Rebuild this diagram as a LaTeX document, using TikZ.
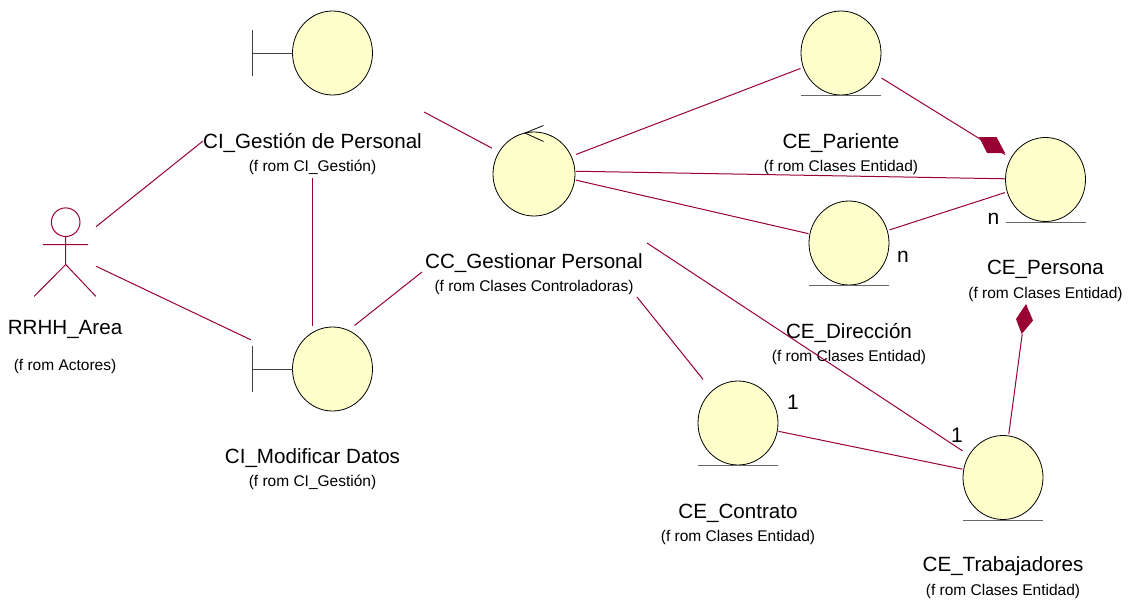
\documentclass[tikz,border=0pt]{standalone}
\usepackage{fontspec}
\setmainfont{Liberation Sans}
\usepackage{xcolor}
\usetikzlibrary{positioning}
\definecolor{assocRed}{HTML}{990033}
\definecolor{bodyYellow}{HTML}{FFFFCC}

\begin{document}
\begin{tikzpicture}[
    x=1pt, y=-1pt, on grid,
    entity/.style={rectangle, inner sep=0pt, outer sep=0pt, minimum width=81pt, minimum height=87pt,
        path picture={\begin{scope}[shift={(path picture bounding box.center)}]
            \draw[fill=bodyYellow, line width=.8pt] (0,0) ellipse (40pt and 42pt);
            \draw[gray!80!black, line width=1pt] (-40,42.7) -- (40,42.7);
        \end{scope}}},
    boundary/.style={rectangle, inner sep=0pt, outer sep=0pt, minimum width=123pt, minimum height=87pt,
        path picture={\begin{scope}[shift={(path picture bounding box.center)}]
            \draw[fill=bodyYellow, line width=.8pt] (20,0) ellipse (40pt and 42pt);
            \draw[black!75, line width=.8pt] (-60.5,0) -- (-20,0);
            \draw[black!75, line width=1pt] (-60.5,-23) -- (-60.5,23);
        \end{scope}}},
    control/.style={rectangle, inner sep=0pt, outer sep=0pt, minimum width=84pt, minimum height=93pt,
        path picture={\begin{scope}[shift={(path picture bounding box.center)}]
            \draw[fill=bodyYellow, line width=.8pt] (0,3.5) ellipse (41pt and 42pt);
            \draw[line width=.8pt] (9.5,-45) -- (-9,-37.5) -- (9.5,-29);
        \end{scope}}},
    actor/.style={rectangle, inner sep=0pt, outer sep=0pt, minimum width=62pt, minimum height=92pt,
        path picture={\begin{scope}[shift={(path picture bounding box.center)}, assocRed, line width=1pt]
            \draw (.7,-29.3) circle (14.3pt);
            \draw (.7,-15) -- (.7,13) (-22,-7) -- (23,-7) (-31,45) -- (.7,13) -- (31,45);
        \end{scope}}},
    assoc/.style={draw=assocRed, line width=1pt},
    partof/.style={fill=assocRed},
    title/.style={inner sep=0pt, font=\fontsize{20.6}{24}\selectfont, text height=14pt, text depth=0pt},
    source/.style={inner sep=0pt, font=\fontsize{15.5}{18}\selectfont, text height=11pt, text depth=1pt},
    multi/.style={inner sep=0pt, font=\fontsize{21}{24}\selectfont}
]
\useasboundingbox (0,0) rectangle (1128,602);

\node[entity] at (841,53) (pariente) {};
\node[entity, below right=126.5pt and 204.5pt of pariente] (persona) {};
\node[entity, below right=190pt and 8pt of pariente] (direccion) {};
\node[control, below left=117.5pt and 307pt of pariente] (gestionar) {};
\node[boundary, left=528.5pt of pariente] (gestion) {};
\node[boundary, below=316pt of gestion] (modificar) {};
\node[actor, below left=198.5pt and 247.5pt of gestion] (area) {};
\node[entity, below right=252.5pt and 204pt of gestionar] (contrato) {};
\node[entity, below right=54.5pt and 265pt of contrato] (trabajadores) {};

\node[title, below=88pt of gestion] (gestionName) {CI\_Gestión de Personal};
\node[source, below=25pt of gestionName] (gestionFrom) {(f rom CI\_Gestión)};
\node[title, below=76pt of area] (areaName) {RRHH\_Area};
\node[source, below=38pt of areaName] (areaFrom) {(f rom Actores)};
\node[title, below=87.5pt of modificar] (modificarName) {CI\_Modificar Datos};
\node[source, below=25pt of modificarName] (modificarFrom) {(f rom CI\_Gestión)};
\node[title, below=90.5pt of gestionar] (gestionarName) {CC\_Gestionar Personal};
\node[source, below=25pt of gestionarName] (gestionarFrom) {(f rom Clases Controladoras)};
\node[title, below=88pt of pariente] (parienteName) {CE\_Pariente};
\node[source, below=25pt of parienteName] (parienteFrom) {(f rom Clases Entidad)};
\node[title, below=87.5pt of persona] (personaName) {CE\_Persona};
\node[source, below=26pt of personaName] (personaFrom) {(f rom Clases Entidad)};
\node[title, below=88pt of direccion] (direccionName) {CE\_Dirección};
\node[source, below=25pt of direccionName] (direccionFrom) {(f rom Clases Entidad)};
\node[title, below=88pt of contrato] (contratoName) {CE\_Contrato};
\node[source, below=25pt of contratoName] (contratoFrom) {(f rom Clases Entidad)};
\node[title, below=86.5pt of trabajadores] (trabajadoresName) {CE\_Trabajadores};
\node[source, below=26pt of trabajadoresName] (trabajadoresFrom) {(f rom Clases Entidad)};

\node[multi, below right=14pt and 54pt of direccion] (direccionMulti) {n};
\node[multi, below left=39pt and 52pt of persona] (personaMulti) {n};
\node[multi, above right=21pt and 55pt of contrato] (contratoMulti) {1};
\node[multi, above left=42.5pt and 46pt of trabajadores] (trabajadoresMulti) {1};

\coordinate[left=109.5pt of gestionName] (gestionWest);
\coordinate[below=12pt of gestionFrom] (gestionSouth);
\coordinate[above right=29pt and 111.5pt of gestionName] (gestionEast);
\coordinate[below left=11pt and 112pt of gestionarName] (gestionarWest);
\coordinate[below right=11pt and 103pt of gestionarFrom] (gestionarSouth);
\coordinate[above right=18pt and 113pt of gestionarName] (gestionarEast);
\coordinate[below left=41pt and 23.3pt of personaFrom] (personaSouth);

\draw[assoc] (area) -- (gestionWest);
\draw[assoc] (area) -- (modificar);
\draw[assoc] (gestionSouth) -- (modificar);
\draw[assoc] (modificar.46) -- (gestionarWest);
\draw[assoc] (gestionEast) -- (gestionar);
\draw[assoc] (gestionar) -- (pariente);
\draw[assoc] (gestionar) -- (persona);
\draw[assoc] (gestionar) -- (direccion);
\draw[assoc] (direccion) -- (persona);
\draw[assoc] (pariente) -- (persona);
\draw[assoc] (trabajadores) -- (personaSouth);
\draw[assoc] (gestionarSouth) -- (contrato);
\draw[assoc] (gestionarEast) -- (trabajadores);
\draw[assoc] (contrato) -- (trabajadores);

\fill[partof] (979,137) -- (996.5,137) -- (1005,153) -- (987,153) -- cycle;
\fill[partof] (1026,304) -- (1033,320.5) -- (1021.7,334) -- (1016,319) -- cycle;

\end{tikzpicture}
\end{document}
